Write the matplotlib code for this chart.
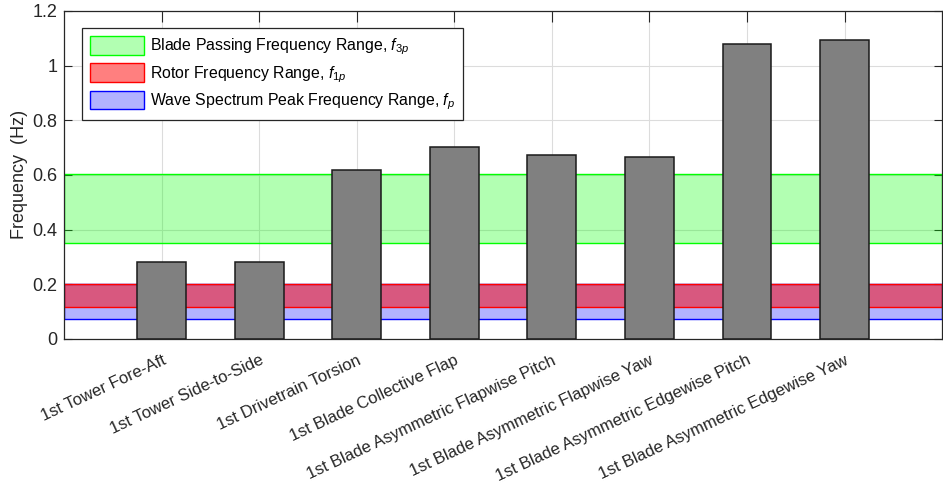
import matplotlib.pyplot as plt
import matplotlib.transforms as mtransforms
import numpy as np

plt.rcParams['font.family'] = ['Liberation Sans', 'DejaVu Sans']
plt.rcParams['mathtext.fontset'] = 'custom'
plt.rcParams['mathtext.rm'] = 'Liberation Sans'
plt.rcParams['mathtext.it'] = 'Liberation Sans:italic'

# natural frequencies of the structural modes (Hz)
modes = ['1st Tower Fore-Aft', '1st Tower Side-to-Side', '1st Drivetrain Torsion',
         '1st Blade Collective Flap', '1st Blade Asymmetric Flapwise Pitch',
         '1st Blade Asymmetric Flapwise Yaw', '1st Blade Asymmetric Edgewise Pitch',
         '1st Blade Asymmetric Edgewise Yaw']
freqs = [0.283, 0.280, 0.617, 0.701, 0.671, 0.665, 1.078, 1.093]

# excitation frequency ranges (Hz)
range_3p = [0.350, 0.605]
range_1p = [0.118, 0.200]
range_wave = [0.072, 0.200]

fig = plt.figure(figsize=(9.43, 4.92), dpi=100)
ax = fig.add_axes([0.068, 0.311, 0.931, 0.667])

x = np.arange(1, len(modes) + 1)

ax.axhspan(range_3p[0], range_3p[1], facecolor=(0, 1, 0, 0.3), edgecolor=(0, 1, 0),
           linewidth=1, zorder=1, label='Blade Passing Frequency Range, $f_{3p}$')
ax.axhspan(range_1p[0], range_1p[1], facecolor=(1, 0, 0, 0.5), edgecolor=(1, 0, 0),
           linewidth=1, zorder=1.2, label='Rotor Frequency Range, $f_{1p}$')
ax.axhspan(range_wave[0], range_wave[1], facecolor=(0, 0, 1, 0.3), edgecolor=(0, 0, 1),
           linewidth=1, zorder=1.1, label='Wave Spectrum Peak Frequency Range, $f_p$')

ax.bar(x, freqs, width=0.5, color='#808080', edgecolor='#1a1a1a', linewidth=1.1, zorder=3)

ax.set_xlim(0, 9)
ax.set_ylim(0, 1.2)
ax.set_xticks(x)
ax.set_xticklabels(modes, rotation=25, ha='right', va='top', rotation_mode='anchor',
                   fontsize=12, color='#262626')
# nudge the slanted labels a little to the right of their ticks
shift = mtransforms.ScaledTranslation(5 / 100, 0, fig.dpi_scale_trans)
for lbl in ax.get_xticklabels():
    lbl.set_transform(lbl.get_transform() + shift)
ax.set_yticks([0, 0.2, 0.4, 0.6, 0.8, 1.0, 1.2])
ax.set_yticklabels(['0', '0.2', '0.4', '0.6', '0.8', '1', '1.2'], fontsize=13, color='#262626')
ax.set_ylabel('Frequency  (Hz)', fontsize=13, color='#262626', labelpad=3)
ax.tick_params(direction='in', top=True, right=True, color='#262626', width=0.8)
ax.tick_params(axis='x', length=8, pad=10)
ax.tick_params(axis='y', length=6, pad=5)
ax.grid(True, color='#dcdcdc', linewidth=0.8, zorder=0)
ax.set_axisbelow(True)
for s in ax.spines.values():
    s.set_color('#262626')
    s.set_linewidth(0.9)

leg = ax.legend(loc='upper left', bbox_to_anchor=(0.0205, 0.948), fontsize=11.4, handlelength=3.4,
                handleheight=1.45, handletextpad=0.4, fancybox=False, framealpha=1,
                edgecolor='#262626', borderpad=0.5, labelspacing=0.38, borderaxespad=0)
leg.get_frame().set_linewidth(0.9)

fig.savefig('out.png', dpi=100)
